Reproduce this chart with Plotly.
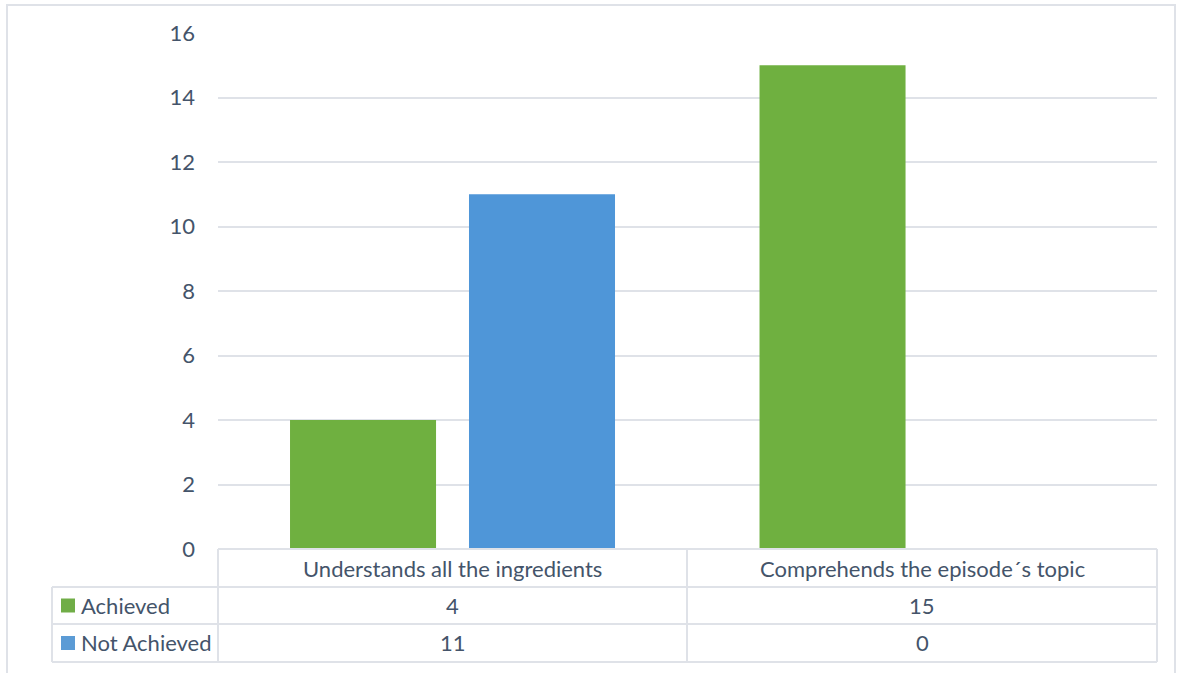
import plotly.graph_objects as go

categories = ["Understands all the ingredients", "Comprehends the episode\u00b4s topic"]
series_names = ["Achieved", "Not Achieved"]
achieved = [4, 15]
not_achieved = [11, 0]
series_values = [achieved, not_achieved]
colors = ["#70ad47", "#5b9bd5"]
bar_colors = ["#6fb040", "#4f96d8"]
y_ticks = [0, 2, 4, 6, 8, 10, 12, 14, 16]

W, H = 1177, 673
L, R, T, B = 218, 20, 33, 124
pw, ph = W - L - R, H - T - B

def px(x):
    return (x - L) / pw

def py(y):
    return (H - B - y) / ph

TEXT = "#44546a"
GRID = "#dfe2e8"
FONT = "Lato"
FS = 22

fig = go.Figure()
offsets = [-0.3466, 0.0346]
for name, vals, c, off in zip(series_names, series_values, bar_colors, offsets):
    fig.add_trace(go.Bar(
        x=categories, y=vals, name=name,
        marker=dict(color=c, line=dict(width=0)),
        width=0.311, offset=off, showlegend=False,
    ))

fig.update_layout(
    width=W, height=H,
    margin=dict(l=L, r=R, t=T, b=B),
    paper_bgcolor="white", plot_bgcolor="white",
    font=dict(family=FONT, size=FS, color=TEXT),
    barmode="overlay",
    xaxis=dict(showticklabels=False, showgrid=False, zeroline=False, showline=False,
               range=[-0.5, 1.5]),
    yaxis=dict(range=[0, 16], tickvals=y_ticks, showgrid=True, gridcolor=GRID, gridwidth=1.5,
               zeroline=False, showline=False, ticks="", ticklabelstandoff=22,
               tickfont=dict(family=FONT, size=FS, color=TEXT)),
)

shapes = []
line = dict(color=GRID, width=2)
# outer border
shapes.append(dict(type="rect", xref="paper", yref="paper", x0=px(7), x1=px(1175), y0=py(5), y1=py(690),
                   line=dict(color=GRID, width=2), layer="below"))
# table horizontal lines
shapes.append(dict(type="line", xref="paper", yref="paper", x0=px(218), x1=px(1157), y0=py(549), y1=py(549), line=line))
for yy in [587, 624, 662]:
    shapes.append(dict(type="line", xref="paper", yref="paper", x0=px(52), x1=px(1157), y0=py(yy), y1=py(yy), line=line))
# vertical lines
shapes.append(dict(type="line", xref="paper", yref="paper", x0=px(52), x1=px(52), y0=py(587), y1=py(662), line=line))
for xx in [218, 687, 1157]:
    shapes.append(dict(type="line", xref="paper", yref="paper", x0=px(xx), x1=px(xx), y0=py(549), y1=py(662), line=line))

annotations = []
for cat in categories:
    annotations.append(dict(x=cat, xref="x", y=py(568), yref="paper", text=cat, showarrow=False,
                            font=dict(family=FONT, size=FS, color=TEXT), xanchor="center", yanchor="middle"))
row_centers = [605.5, 643]
for name, vals, c, yc in zip(series_names, series_values, colors, row_centers):
    shapes.append(dict(type="rect", xref="paper", yref="paper", x0=px(61), x1=px(75), y0=py(yc - 7), y1=py(yc + 7),
                       fillcolor=c, line=dict(width=0)))
    annotations.append(dict(x=px(79), xref="paper", y=py(yc), yref="paper", text=name, showarrow=False,
                            font=dict(family=FONT, size=FS, color=TEXT), xanchor="left", yanchor="middle"))
    for cat, v in zip(categories, vals):
        annotations.append(dict(x=cat, xref="x", y=py(yc), yref="paper", text=str(v), showarrow=False,
                                font=dict(family=FONT, size=FS, color=TEXT), xanchor="center", yanchor="middle"))

fig.update_layout(shapes=shapes, annotations=annotations)
fig.write_html("out.html", config={"displayModeBar": False},
               post_script="document.body.style.margin='0';document.body.style.overflow='hidden';")
